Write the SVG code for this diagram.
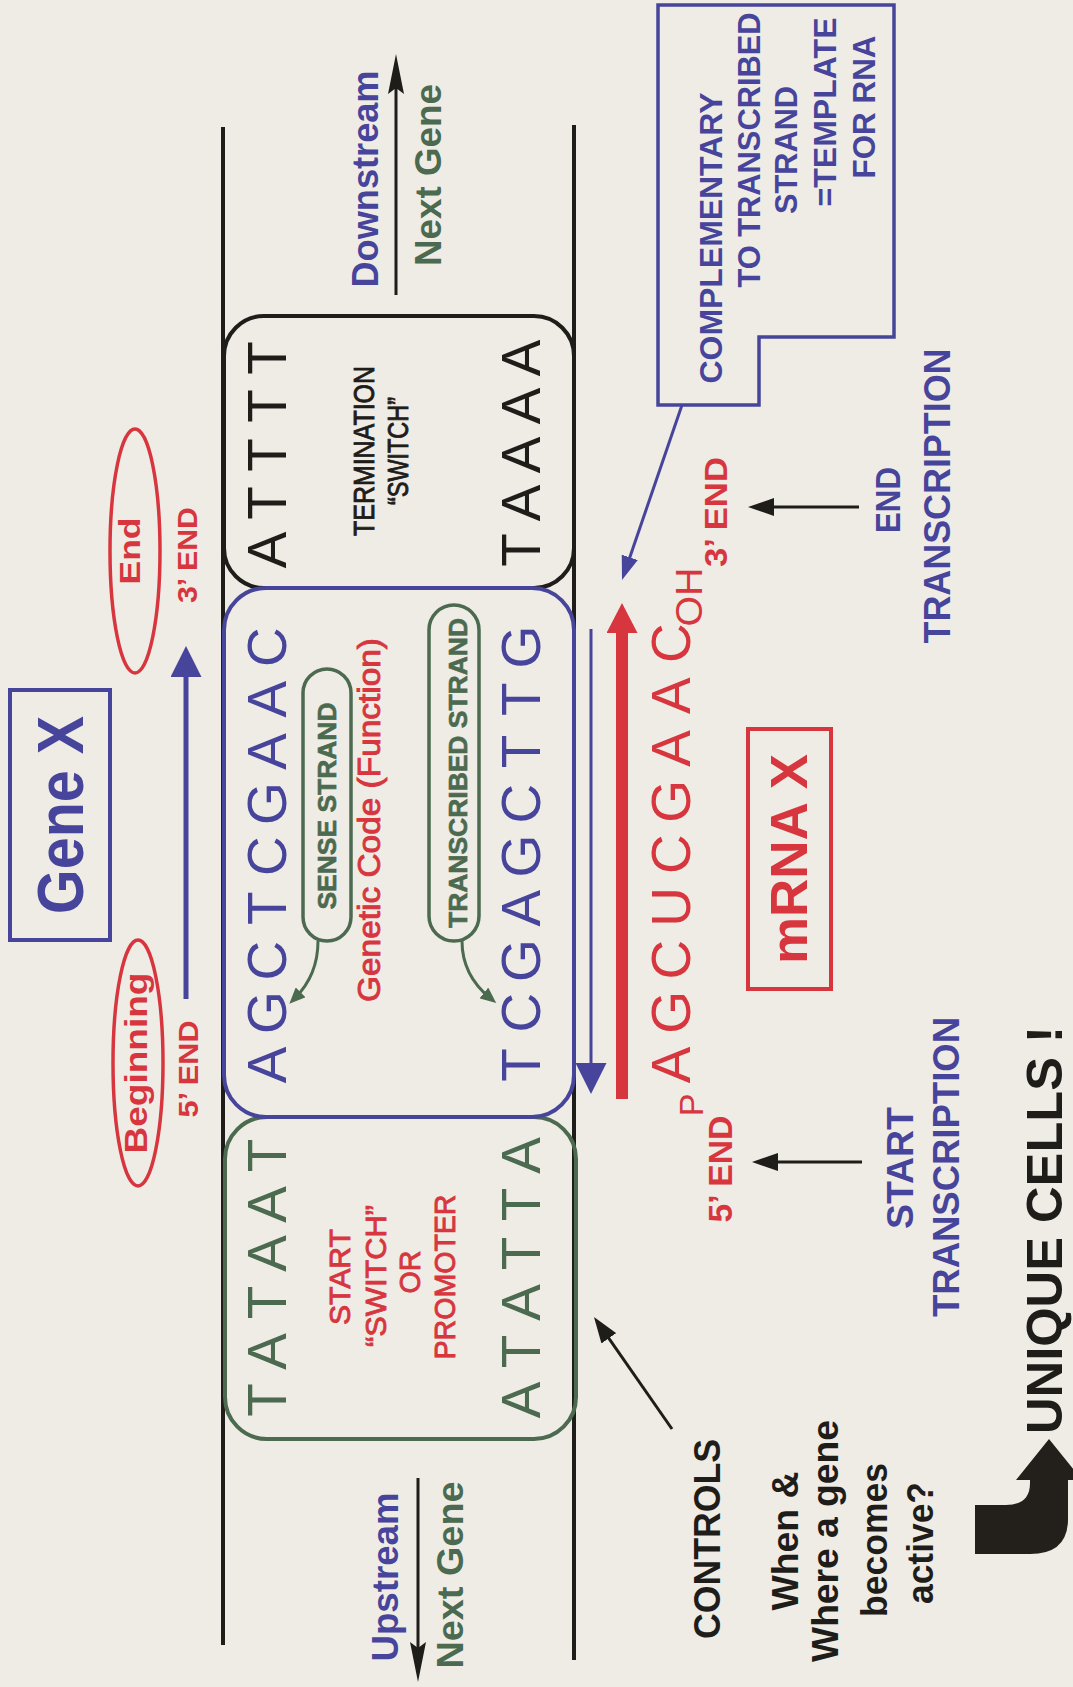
<svg xmlns="http://www.w3.org/2000/svg" width="1073" height="1687" viewBox="0 0 1073 1687">
<style>
text { font-family: "Liberation Sans", Arial, Helvetica, sans-serif; }
.b { font-weight: bold; }
.blue { fill: #47459b; }
.red { fill: #d7363f; }
.green { fill: #4b6a4f; }
.blk { fill: #1f1d1a; }
.base { font-size: 55px; }
.mid { text-anchor: middle; }
.med { stroke-width: 0.9; }
.red.med { stroke: #d7363f; }
.blk.med { stroke: #1f1d1a; }
.green.med { stroke: #4b6a4f; stroke-width: 0.6; }
.strand { stroke: #1f1d1a; stroke-width: 4; fill: none; }
.sbox { fill: none; stroke-width: 4; }
.ln { fill: none; stroke-linecap: butt; }
</style>
<defs>
<marker id="mThin" viewBox="0 0 40 16" refX="20" refY="8" markerWidth="40" markerHeight="16" markerUnits="userSpaceOnUse" orient="auto"><path d="M0,0 L40,8 L0,16 L6,8 Z" fill="#1f1d1a"/></marker>
<marker id="mBlk" viewBox="0 0 26 18" refX="13" refY="9" markerWidth="26" markerHeight="18" markerUnits="userSpaceOnUse" orient="auto"><path d="M0,0 L26,9 L0,18 Z" fill="#1f1d1a"/></marker>
<marker id="mBlue" viewBox="0 0 31 31" refX="15" refY="15.5" markerWidth="31" markerHeight="31" markerUnits="userSpaceOnUse" orient="auto"><path d="M0,0 L31,15.5 L0,31 Z" fill="#47459b"/></marker>
<marker id="mBlueS" viewBox="0 0 24 17" refX="12" refY="8.5" markerWidth="24" markerHeight="17" markerUnits="userSpaceOnUse" orient="auto"><path d="M0,0 L24,8.5 L0,17 Z" fill="#47459b"/></marker>
<marker id="mRed" viewBox="0 0 30 31" refX="15" refY="15.5" markerWidth="30" markerHeight="31" markerUnits="userSpaceOnUse" orient="auto"><path d="M0,0 L30,15.5 L0,31 Z" fill="#d7363f"/></marker>
<marker id="mGreen" viewBox="0 0 16 14" refX="8" refY="7" markerWidth="16" markerHeight="14" markerUnits="userSpaceOnUse" orient="auto"><path d="M0,0 L16,7 L0,14 Z" fill="#4b6a4f"/></marker>
</defs>
<rect width="1073" height="1687" fill="#efece5"/>
<g transform="translate(0,1687) rotate(-90)">
  <g id="dna-strands">
    <line class="strand" x1="42" y1="223" x2="1560" y2="223"/>
    <line class="strand" x1="27" y1="574" x2="1562" y2="574"/>
  </g>
  <g id="termination-box">
    <rect class="sbox" x="1099" y="224" width="272" height="350" rx="40" stroke="#1f1d1a"/>
    <text class="base blk mid" x="1137 1184 1232 1281 1329" y="286">ATTTT</text>
    <text class="base blk mid" x="1137 1184 1232 1281 1329" y="540">TAAAA</text>
    <text class="blk mid med" font-size="30" x="1236" y="374" textLength="170" lengthAdjust="spacingAndGlyphs">TERMINATION</text>
    <text class="blk mid med" font-size="30" x="1236" y="408" textLength="108" lengthAdjust="spacingAndGlyphs">“SWITCH”</text>
  </g>
  <g id="promoter-box">
    <rect class="sbox" x="248" y="225" width="322" height="351" rx="42" stroke="#4b6a4f"/>
    <text class="base green mid" x="287 335.5 384.5 433.5 482.5 531.5" y="286">TATAAT</text>
    <text class="base green mid" x="287 335.5 384.5 433.5 482.5 531.5" y="540">ATATTA</text>
    <text class="red mid med" font-size="30" x="410" y="350" textLength="96" lengthAdjust="spacingAndGlyphs">START</text>
    <text class="red mid med" font-size="30" x="411" y="386" textLength="142" lengthAdjust="spacingAndGlyphs">“SWITCH”</text>
    <text class="red mid med" font-size="30" x="415" y="420" textLength="43" lengthAdjust="spacingAndGlyphs">OR</text>
    <text class="red mid med" font-size="30" x="410" y="455" textLength="165" lengthAdjust="spacingAndGlyphs">PROMOTER</text>
  </g>
  <g id="coding-box">
    <rect class="sbox" x="570" y="224" width="529" height="350" rx="42" stroke="#47459b"/>
    <text class="base blue mid" x="622 674.3 726.5 778.8 831 883.3 935.5 987.8 1040" y="286">AGCTCGAAC</text>
    <text class="base blue mid" x="622 674.3 726.5 778.8 831 883.3 935.5 987.8 1040" y="540">TCGAGCTTG</text>
    <text class="red mid med" font-size="31" x="867" y="380" textLength="364" lengthAdjust="spacingAndGlyphs">Genetic Code (Function)</text>
  </g>
  <g id="sense-strand">
    <rect x="746" y="303" width="272" height="48" rx="24" fill="none" stroke="#4b6a4f" stroke-width="3.5"/>
    <text class="b green mid med" font-size="25" x="881" y="336" textLength="207" lengthAdjust="spacingAndGlyphs">SENSE STRAND</text>
  </g>
  <g id="transcribed-strand">
    <rect x="746" y="429" width="336" height="50" rx="25" fill="none" stroke="#4b6a4f" stroke-width="3.5"/>
    <text class="b green mid med" font-size="25" x="914" y="467" textLength="310" lengthAdjust="spacingAndGlyphs">TRANSCRIBED STRAND</text>
  </g>
  <g id="gene-x">
    <rect x="747" y="10" width="250" height="100" fill="none" stroke="#47459b" stroke-width="4"/>
    <text class="b blue mid" font-size="64" x="872" y="83" textLength="198" lengthAdjust="spacingAndGlyphs">Gene X</text>
  </g>
  <g id="beginning">
    <ellipse cx="624" cy="138" rx="123" ry="25" fill="none" stroke="#d7363f" stroke-width="3.5"/>
    <text class="b red mid" font-size="31" x="624" y="147" textLength="181" lengthAdjust="spacingAndGlyphs">Beginning</text>
    <text class="b red mid" font-size="27" x="618" y="198" textLength="97" lengthAdjust="spacingAndGlyphs">5’ END</text>
  </g>
  <g id="end">
    <ellipse cx="1136" cy="135" rx="122" ry="25" fill="none" stroke="#d7363f" stroke-width="3.5"/>
    <text class="b red mid" font-size="29" x="1136" y="140" textLength="67" lengthAdjust="spacingAndGlyphs">End</text>
    <text class="b red mid" font-size="27" x="1132" y="197" textLength="96" lengthAdjust="spacingAndGlyphs">3’ END</text>
  </g>
  <g id="downstream">
    <text class="b blue mid" font-size="37" x="1508" y="378" textLength="217" lengthAdjust="spacingAndGlyphs">Downstream</text>
    <text class="b green mid" font-size="37" x="1512" y="441" textLength="182" lengthAdjust="spacingAndGlyphs">Next Gene</text>
  </g>
  <g id="upstream">
    <text class="b blue mid" font-size="37" x="110" y="398" textLength="169" lengthAdjust="spacingAndGlyphs">Upstream</text>
    <text class="b green mid" font-size="37" x="112" y="463" textLength="187" lengthAdjust="spacingAndGlyphs">Next Gene</text>
  </g>
  <g id="mrna">
    <text class="base red mid" x="622 674.75 727.5 780.25 833 885.75 938.5 991.25 1044" y="690">AGCUCGAAC</text>
    <text class="red mid" font-size="34" x="582" y="703">P</text>
    <text class="b red mid" font-size="33" x="518" y="732" textLength="107" lengthAdjust="spacingAndGlyphs">5’ END</text>
    <text class="red mid" font-size="36" x="1090" y="702" textLength="59" lengthAdjust="spacingAndGlyphs">OH</text>
    <text class="b red mid" font-size="31" x="1175" y="727" textLength="110" lengthAdjust="spacingAndGlyphs">3’ END</text>
  </g>
  <g id="mrna-x">
    <rect x="698" y="748" width="260" height="83" fill="none" stroke="#d7363f" stroke-width="4"/>
    <text class="b red mid" font-size="52" x="828" y="807" textLength="210" lengthAdjust="spacingAndGlyphs">mRNA X</text>
  </g>
  <g id="callout">
    <path d="M1682,658 L1682,894 L1350,894 L1350,759 L1282,759 L1282,658 Z" fill="none" stroke="#47459b" stroke-width="3.5"/>
    <text class="b blue mid" font-size="32" x="1449" y="722" textLength="291" lengthAdjust="spacingAndGlyphs">COMPLEMENTARY</text>
    <text class="b blue mid" font-size="32" x="1537" y="760" textLength="275" lengthAdjust="spacingAndGlyphs">TO TRANSCRIBED</text>
    <text class="b blue mid" font-size="32" x="1537" y="797" textLength="128" lengthAdjust="spacingAndGlyphs">STRAND</text>
    <text class="b blue mid" font-size="32" x="1575" y="836" textLength="189" lengthAdjust="spacingAndGlyphs">=TEMPLATE</text>
    <text class="b blue mid" font-size="32" x="1580" y="875" textLength="143" lengthAdjust="spacingAndGlyphs">FOR RNA</text>
  </g>
  <g id="end-transcription">
    <text class="b blue mid" font-size="35" x="1187" y="900" textLength="66" lengthAdjust="spacingAndGlyphs">END</text>
    <text class="b blue mid" font-size="36" x="1191" y="950" textLength="295" lengthAdjust="spacingAndGlyphs">TRANSCRIPTION</text>
  </g>
  <g id="start-transcription">
    <text class="b blue mid" font-size="36" x="519" y="913" textLength="122" lengthAdjust="spacingAndGlyphs">START</text>
    <text class="b blue mid" font-size="36" x="520" y="959" textLength="300" lengthAdjust="spacingAndGlyphs">TRANSCRIPTION</text>
  </g>
  <g id="controls">
    <text class="b blk mid" font-size="36" x="148" y="720" textLength="200" lengthAdjust="spacingAndGlyphs">CONTROLS</text>
    <text class="b blk mid" font-size="36" x="146" y="798" textLength="139" lengthAdjust="spacingAndGlyphs">When &amp;</text>
    <text class="b blk mid" font-size="36" x="146" y="838" textLength="242" lengthAdjust="spacingAndGlyphs">Where a gene</text>
    <text class="b blk mid" font-size="36" x="147" y="887" textLength="154" lengthAdjust="spacingAndGlyphs">becomes</text>
    <text class="b blk mid" font-size="36" x="144" y="933" textLength="122" lengthAdjust="spacingAndGlyphs">active?</text>
  </g>
  <g id="unique-cells">
    <path d="M133,975 H182 V1006 Q182,1030 204,1030 H207 V1016 L248,1049 L207,1082 V1068 H168 Q133,1068 133,1030 Z" fill="#231f1a"/>
    <text class="b blk mid" font-size="50" x="457" y="1062" textLength="408" lengthAdjust="spacingAndGlyphs">UNIQUE CELLS !</text>
  </g>
  <g id="connectors">
    <line class="ln" x1="688" y1="186" x2="1025" y2="186" stroke="#47459b" stroke-width="5" marker-end="url(#mBlue)"/>
    <line class="ln" x1="1392" y1="396" x2="1613" y2="396" stroke="#1f1d1a" stroke-width="3" marker-end="url(#mThin)"/>
    <line class="ln" x1="209" y1="418" x2="25" y2="418" stroke="#1f1d1a" stroke-width="3" marker-end="url(#mThin)"/>
    <line class="ln" x1="1058" y1="591" x2="609" y2="591" stroke="#47459b" stroke-width="3" marker-end="url(#mBlue)"/>
    <line class="ln" x1="588" y1="622" x2="1069" y2="622" stroke="#d7363f" stroke-width="12" marker-end="url(#mRed)"/>
    <line class="ln" x1="1282" y1="682" x2="1118.3" y2="625.9" stroke="#47459b" stroke-width="3" marker-end="url(#mBlueS)"/>
    <line class="ln" x1="1180" y1="859" x2="1180" y2="761" stroke="#1f1d1a" stroke-width="3" marker-end="url(#mBlk)"/>
    <line class="ln" x1="525" y1="862" x2="525" y2="765" stroke="#1f1d1a" stroke-width="3" marker-end="url(#mBlk)"/>
    <line class="ln" x1="258" y1="672" x2="359.3" y2="601.4" stroke="#1f1d1a" stroke-width="3" marker-end="url(#mBlk)"/>
    <path class="ln" d="M746,318 Q712,318 689,295" stroke="#4b6a4f" stroke-width="3" marker-end="url(#mGreen)"/>
    <path class="ln" d="M746,462 Q712,462 689,490" stroke="#4b6a4f" stroke-width="3" marker-end="url(#mGreen)"/>
  </g>
</g>
</svg>
